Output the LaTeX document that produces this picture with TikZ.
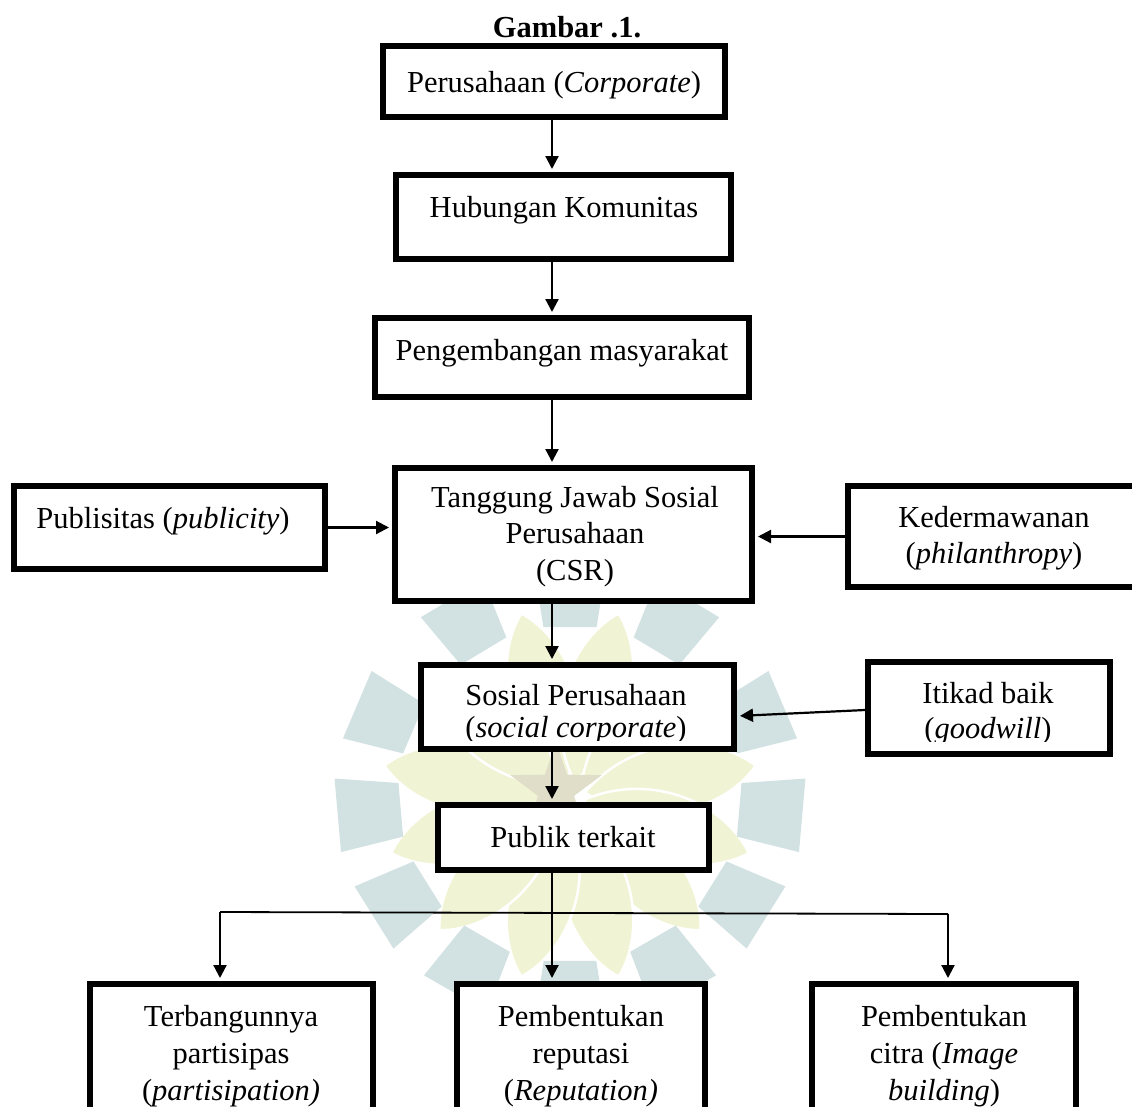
\documentclass[tikz,border=0pt]{standalone}
\usepackage{fontspec}
\setmainfont{Liberation Serif}
\usetikzlibrary{arrows.meta}
\definecolor{wmblue}{RGB}{210,225,226}
\definecolor{wmyel}{RGB}{240,244,212}
\definecolor{wmstar}{RGB}{224,222,200}
\begin{document}
\begin{tikzpicture}[x=1pt,y=-1pt,
  box/.style={draw, fill=white, line width=6pt, rectangle, inner sep=0pt},
  txt/.style={anchor=base, inner sep=0pt, font=\fontsize{30.5}{37}\selectfont},
  arr/.style={line width=2.2pt, -{Triangle[length=13pt,width=13pt]}, shorten >=3pt},
  branch/.style={line width=1.8pt},
  petal/.style={fill=wmyel, draw=white, line width=2.5pt},
  block/.style={fill=wmblue}
]
\clip (0,0) rectangle (1132,1106);
\fill[white] (0,0) rectangle (1132,1106);

% faint watermark (logo behind the lower part)
\foreach \a in {-105,-75,-41,-9,18,46,75,105,134,162,189,221}{
  \path[petal, shift={(570,795)}, rotate=-\a]
    (15,0) .. controls (70,48) and (150,40) .. (188,0)
    .. controls (150,-40) and (70,-48) .. (15,0) -- cycle;
}
\foreach \a/\ra/\rb in {-121/170/232,-90/170/232,-59/170/232,-23/172/234,5/172/236,32/170/234,60/168/232,90/168/232,120/168/232,148/170/234,175/172/236,-157/172/234}{
  \fill[block, shift={(570,795)}] (\a-9:\ra) -- (\a-9:\rb) -- (\a+9:\rb) -- (\a+9:\ra) -- cycle;
}
\fill[wmstar, shift={(556,790)}] (-90:48)
  \foreach \k in {1,...,9}{ -- (-90+\k*36:{mod(\k,2)==1 ? 19 : 48}) } -- cycle;

% title
\node[txt, font=\fontsize{30.5}{37}\selectfont\bfseries] (title) at (567,37) {Gambar .1.};

% boxes
\node[box, minimum width=342pt, minimum height=71pt] (b1) at (554,81.5) {};
\node[box, minimum width=335pt, minimum height=84pt] (b2) at (563.5,217) {};
\node[box, minimum width=374pt, minimum height=79pt] (b3) at (562,357.5) {};
\node[box, minimum width=357pt, minimum height=133pt] (csr) at (573.5,534.5) {};
\node[box, minimum width=311pt, minimum height=83pt] (pub) at (169.5,527.5) {};
\node[box, minimum width=289pt, minimum height=101pt] (ked) at (992.5,536.5) {};
\node[box, minimum width=313pt, minimum height=84pt] (sos) at (577.5,707) {};
\node[box, minimum width=242pt, minimum height=92pt] (itk) at (989,708) {};
\node[box, minimum width=271pt, minimum height=65pt] (pk) at (573.5,837.5) {};
\node[box, minimum width=283pt, minimum height=153pt] (bl) at (231.5,1060.5) {};
\node[box, minimum width=248pt, minimum height=153pt] (bm) at (581,1060.5) {};
\node[box, minimum width=264pt, minimum height=153pt] (br) at (944,1060.5) {};

% texts
\node[txt] (b1t) at (554,92) {Perusahaan (\textit{Corporate})};
\node[txt] (b2t) at (564,217) {Hubungan Komunitas};
\node[txt] (b3t) at (562,360) {Pengembangan masyarakat};
\node[txt] (csrt1) at (575,507) {Tanggung Jawab Sosial};
\node[txt] (csrt2) at (575,543) {Perusahaan};
\node[txt] (csrt3) at (575,580) {(CSR)};
\node[txt] (pubt) at (163,528) {Publisitas (\textit{publicity})};
\node[txt] (kedt1) at (994,527) {Kedermawanan};
\node[txt] (kedt2) at (994,563) {(\textit{philanthropy})};
\node[txt] (sost1) at (576,705) {Sosial Perusahaan};
\begin{scope}
  \clip (421,690) rectangle (734,740);
  \node[txt] (sost2) at (576,737) {(\textit{social corporate})};
\end{scope}
\node[txt] (itkt1) at (988,703) {Itikad baik};
\begin{scope}
  \clip (868,690) rectangle (1110,741);
  \node[txt] (itkt2) at (988,738) {(\textit{goodwill})};
\end{scope}
\node[txt] (pkt) at (573,847) {Publik terkait};
\node[txt] (blt1) at (231,1026) {Terbangunnya};
\node[txt] (blt2) at (231,1063) {partisipas};
\node[txt] (blt3) at (231,1100) {(\textit{partisipation)}};
\node[txt] (bmt1) at (581,1026) {Pembentukan};
\node[txt] (bmt2) at (581,1063) {reputasi};
\node[txt] (bmt3) at (581,1100) {(\textit{Reputation)}};
\node[txt] (brt1) at (944,1026) {Pembentukan};
\node[txt] (brt2) at (944,1063) {citra (\textit{Image}};
\node[txt] (brt3) at (944,1100) {\textit{building})};

% connectors
\coordinate (ax) at (552,0);
\draw[arr] (b1.south -| ax) -- (b2.north -| ax);
\draw[arr] (b2.south -| ax) -- (b3.north -| ax);
\draw[arr] (b3.south -| ax) -- (csr.north -| ax);
\draw[arr] (csr.south -| ax) -- (sos.north -| ax);
\draw[arr] (sos.south -| ax) -- (pk.north -| ax);
\draw[arr] (pub.east) -- (pub.east -| csr.west);
\draw[arr] (ked.west) -- (ked.west -| csr.east);
\draw[arr] ([yshift=-2pt]itk.west) -- ([yshift=-9pt]sos.east);
\draw[arr] (pk.south -| ax) -- (bm.north -| ax);
\coordinate (jl) at (220,912);
\coordinate (jr) at (948,914);
\draw[branch] (jl) -- (jr);
\draw[arr] (jl) -- (bl.north -| jl);
\draw[arr] (jr) -- (br.north -| jr);
\end{tikzpicture}
\end{document}
